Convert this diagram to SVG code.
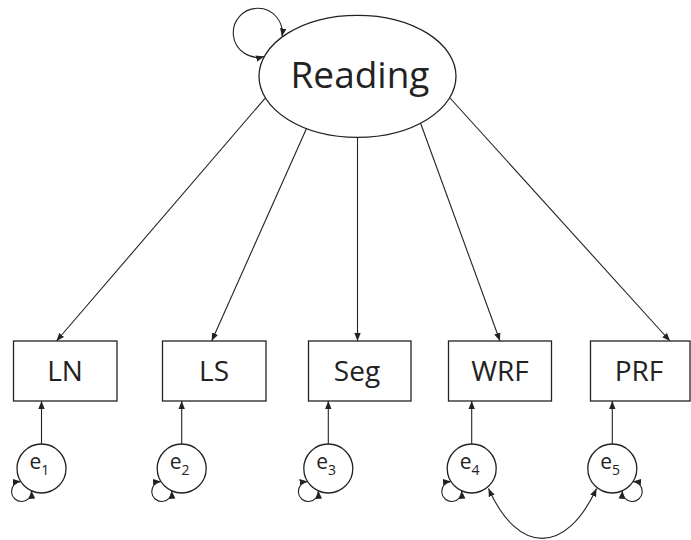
<svg xmlns="http://www.w3.org/2000/svg" width="691" height="540" viewBox="0 0 691 540">
<style>
.shape{fill:#fff;stroke:#222;stroke-width:1.3}
.edge{fill:none;stroke:#222;stroke-width:1.1}
.lbl{font-family:"Open Sans","DejaVu Sans",sans-serif;fill:#222}
.box{font-size:28px;text-anchor:middle}
.err{font-size:21px}
.sub{font-size:14px}
</style>
<defs>
<marker id="ah" viewBox="0 0 10 8" refX="10" refY="4" markerWidth="8" markerHeight="7" markerUnits="userSpaceOnUse" orient="auto-start-reverse">
<path d="M0,0 L10,4 L0,8 z" fill="#222"/>
</marker>
</defs>
<g id="connectors">
<path class="edge" d="M282,36.5 A24.5,24.5 0 1 0 264,56.5" marker-start="url(#ah)" marker-end="url(#ah)"/>
<line class="edge" x1="265" y1="98.3" x2="56.5" y2="341" marker-end="url(#ah)"/>
<line class="edge" x1="306.5" y1="128.5" x2="211.7" y2="341" marker-end="url(#ah)"/>
<line class="edge" x1="357.5" y1="137.3" x2="357.5" y2="341" marker-end="url(#ah)"/>
<line class="edge" x1="420.5" y1="123" x2="500" y2="341" marker-end="url(#ah)"/>
<line class="edge" x1="450" y1="98" x2="670" y2="341" marker-end="url(#ah)"/>
<line class="edge" x1="41.5" y1="444" x2="41.5" y2="401" marker-end="url(#ah)"/>
<line class="edge" x1="181.7" y1="444" x2="181.7" y2="401" marker-end="url(#ah)"/>
<line class="edge" x1="328.3" y1="444" x2="328.3" y2="401" marker-end="url(#ah)"/>
<line class="edge" x1="471.7" y1="444" x2="471.7" y2="401" marker-end="url(#ah)"/>
<line class="edge" x1="612.3" y1="444" x2="612.3" y2="401" marker-end="url(#ah)"/>
<path class="edge" d="M31.5,490.8 A10,10 0 1 1 20.8,481.5" marker-start="url(#ah)" marker-end="url(#ah)"/>
<path class="edge" d="M171.7,490.8 A10,10 0 1 1 161,481.5" marker-start="url(#ah)" marker-end="url(#ah)"/>
<path class="edge" d="M318.3,490.8 A10,10 0 1 1 307.6,481.5" marker-start="url(#ah)" marker-end="url(#ah)"/>
<path class="edge" d="M461.7,490.8 A10,10 0 1 1 451,481.5" marker-start="url(#ah)" marker-end="url(#ah)"/>
<path class="edge" d="M622.3,490.8 A10,10 0 1 0 633,481.5" marker-start="url(#ah)" marker-end="url(#ah)"/>
<path class="edge" d="M488.5,488.5 C518,555 566,555 596.5,488.5" marker-start="url(#ah)" marker-end="url(#ah)"/>
</g>
<g id="reading">
<ellipse class="shape" cx="357.5" cy="76.3" rx="98.5" ry="61"/>
<text class="lbl" x="360" y="87.5" font-size="37" text-anchor="middle">Reading</text>
</g>
<g id="LN">
<rect class="shape" x="13.5" y="341" width="103.5" height="60"/>
<text class="lbl box" x="65" y="380.7">LN</text>
</g>
<g id="LS">
<rect class="shape" x="162.5" y="341" width="103.5" height="60"/>
<text class="lbl box" x="214" y="380.7">LS</text>
</g>
<g id="Seg">
<rect class="shape" x="308.5" y="341" width="102.5" height="60"/>
<text class="lbl box" x="357" y="380.7">Seg</text>
</g>
<g id="WRF">
<rect class="shape" x="448.5" y="341" width="103" height="60"/>
<text class="lbl box" x="500" y="380.7">WRF</text>
</g>
<g id="PRF">
<rect class="shape" x="590.5" y="341" width="99.5" height="60"/>
<text class="lbl box" x="639" y="380.7">PRF</text>
</g>
<g id="e1">
<circle class="shape" cx="41.5" cy="468.5" r="24.5"/>
<text class="lbl err" x="29.5" y="468.5">e<tspan class="sub" dy="6.5">1</tspan></text>
</g>
<g id="e2">
<circle class="shape" cx="181.7" cy="468.5" r="24.5"/>
<text class="lbl err" x="169.7" y="468.5">e<tspan class="sub" dy="6.5">2</tspan></text>
</g>
<g id="e3">
<circle class="shape" cx="328.3" cy="468.5" r="24.5"/>
<text class="lbl err" x="316.3" y="468.5">e<tspan class="sub" dy="6.5">3</tspan></text>
</g>
<g id="e4">
<circle class="shape" cx="471.7" cy="468.5" r="24.5"/>
<text class="lbl err" x="459.7" y="468.5">e<tspan class="sub" dy="6.5">4</tspan></text>
</g>
<g id="e5">
<circle class="shape" cx="612.3" cy="468.5" r="24.5"/>
<text class="lbl err" x="600.3" y="468.5">e<tspan class="sub" dy="6.5">5</tspan></text>
</g>
</svg>
